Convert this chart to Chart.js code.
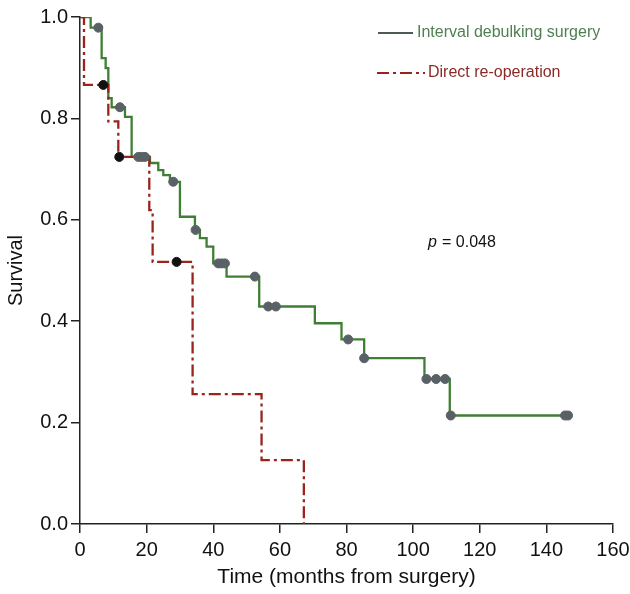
<!DOCTYPE html>
<html>
<head>
<meta charset="utf-8">
<script src="https://cdn.jsdelivr.net/npm/chart.js@4"></script>
<style>
  html, body { margin: 0; padding: 0; background: #fff; }
  #wrap { width: 630px; height: 594px; }
</style>
</head>
<body>
<div id="wrap"><canvas id="myChart" width="630" height="594"></canvas></div>
<script>
// Interval debulking surgery (green)
const idsTimes = [0, 3.2, 6.5, 7.7, 8.5, 9.5, 13.5, 15.5, 21, 23.5, 25, 27, 30, 34.5, 36, 38, 40, 44, 53.8, 70.5, 78.5, 85.3, 103.4, 111, 146.5]
const idsSurv = [1.0, 0.979, 0.919, 0.899, 0.840, 0.822, 0.803, 0.724, 0.712, 0.698, 0.688, 0.675, 0.606, 0.580, 0.564, 0.547, 0.514, 0.488, 0.429, 0.396, 0.364, 0.327, 0.286, 0.214, 0.214]
const idsCensorTimes = [5.5, 12, 17.5, 18.5, 19.5, 28, 34.7, 41.5, 42.5, 43.5, 52.5, 56.5, 58.8, 80.5, 85.3, 104, 106.9, 109.6, 111.3, 145.6, 146.5]
const idsCensorSurv = [0.979, 0.822, 0.724, 0.724, 0.724, 0.675, 0.580, 0.514, 0.514, 0.514, 0.488, 0.429, 0.429, 0.364, 0.327, 0.286, 0.286, 0.286, 0.214, 0.214, 0.214]

// Direct re-operation (red)
const droTimes = [0, 1.2, 8.5, 11.5, 20.8, 21.8, 33.8, 54.5, 67.2]
const droSurv = [1.0, 0.866, 0.794, 0.724, 0.619, 0.517, 0.256, 0.126, 0.0]
const droCensorTimes = [7, 11.8, 29]
const droCensorSurv = [0.866, 0.724, 0.517]

const xTicks = [0, 20, 40, 60, 80, 100, 120, 140, 160]
const yTicks = [0.0, 0.2, 0.4, 0.6, 0.8, 1.0]

const seriesNames = ['Interval debulking surgery', 'Direct re-operation']
const pValueText = '= 0.048'

const green = '#3f7f33'
const red = '#9a231c'

let toPoints = (xs, ys) => xs.map((x, i) => ({ x: x, y: ys[i] }))

const overlay = {
    id: 'overlay',
    afterDraw(chart) {
        const ctx = chart.ctx
        ctx.save()
        // legend
        ctx.lineWidth = 2
        ctx.strokeStyle = '#4d5a4f'
        ctx.beginPath(); ctx.moveTo(378, 33); ctx.lineTo(413, 33); ctx.stroke()
        ctx.strokeStyle = red
        ctx.setLineDash([12, 4, 3, 4])
        ctx.beginPath(); ctx.moveTo(377, 73); ctx.lineTo(425, 73); ctx.stroke()
        ctx.setLineDash([])
        ctx.font = '16px "Liberation Sans", Arial, sans-serif'
        ctx.textBaseline = 'middle'
        ctx.textAlign = 'left'
        ctx.fillStyle = '#4f7f52'
        ctx.fillText(seriesNames[0], 417, 33)
        ctx.fillStyle = '#8b2a25'
        ctx.fillText(seriesNames[1], 428, 73)
        // p value
        ctx.fillStyle = '#111'
        ctx.font = 'italic 16px "Liberation Sans", Arial, sans-serif'
        ctx.fillText('p', 428, 243)
        ctx.font = '16px "Liberation Sans", Arial, sans-serif'
        ctx.fillText(pValueText, 442, 243)
        ctx.restore()
    }
}

let chart = new Chart('myChart', {
    type: 'line',
    data: {
        datasets: [
            {
                label: seriesNames[0],
                data: toPoints(idsTimes, idsSurv),
                borderColor: green,
                borderWidth: 2.3,
                stepped: 'before',
                pointRadius: 0,
                fill: false,
                order: 3
            },
            {
                label: seriesNames[1],
                data: toPoints(droTimes, droSurv),
                borderColor: red,
                borderWidth: 2.3,
                borderDash: [12, 4, 3, 4],
                stepped: 'before',
                pointRadius: 0,
                fill: false,
                order: 2
            },
            {
                type: 'scatter',
                data: toPoints(idsCensorTimes, idsCensorSurv),
                backgroundColor: '#596066',
                borderColor: '#596066',
                pointRadius: 4.5,
                showLine: false,
                order: 1
            },
            {
                type: 'scatter',
                data: toPoints(droCensorTimes, droCensorSurv),
                backgroundColor: '#111',
                borderColor: '#111',
                pointRadius: 4.5,
                showLine: false,
                order: 0
            }
        ]
    },
    options: {
        responsive: false,
        animation: false,
        layout: { padding: { left: 0, right: 17, top: 17, bottom: 0 } },
        plugins: {
            legend: { display: false },
            tooltip: { enabled: false }
        },
        scales: {
            x: {
                type: 'linear',
                min: 0,
                max: 160,
                afterBuildTicks: s => { s.ticks = xTicks.map(v => ({ value: v })) },
                afterFit: s => { s.height = 70; s.paddingLeft = 0; s.paddingRight = 0 },
                grid: { drawOnChartArea: false, drawTicks: true, tickLength: 9, color: '#222', lineWidth: 1.5 },
                border: { display: true, color: '#222', width: 1.5 },
                ticks: { color: '#111', font: { size: 20, family: '"Liberation Sans", Arial' }, padding: 5, maxRotation: 0 },
                title: { display: true, text: 'Time (months from surgery)', color: '#111', font: { size: 21, family: '"Liberation Sans", Arial' }, padding: { top: 1 } }
            },
            y: {
                type: 'linear',
                min: 0,
                max: 1,
                afterBuildTicks: s => { s.ticks = yTicks.map(v => ({ value: v })) },
                afterFit: s => { s.width = 80 },
                grid: { drawOnChartArea: false, drawTicks: true, tickLength: 9, color: '#222', lineWidth: 1.5 },
                border: { display: true, color: '#222', width: 1.5 },
                ticks: { color: '#111', font: { size: 20, family: '"Liberation Sans", Arial' }, padding: 3, callback: v => v.toFixed(1) },
                title: { display: true, text: 'Survival', color: '#111', font: { size: 20, family: '"Liberation Sans", Arial' }, padding: { bottom: 0 } }
            }
        }
    },
    plugins: [overlay]
});
</script>
</body>
</html>
